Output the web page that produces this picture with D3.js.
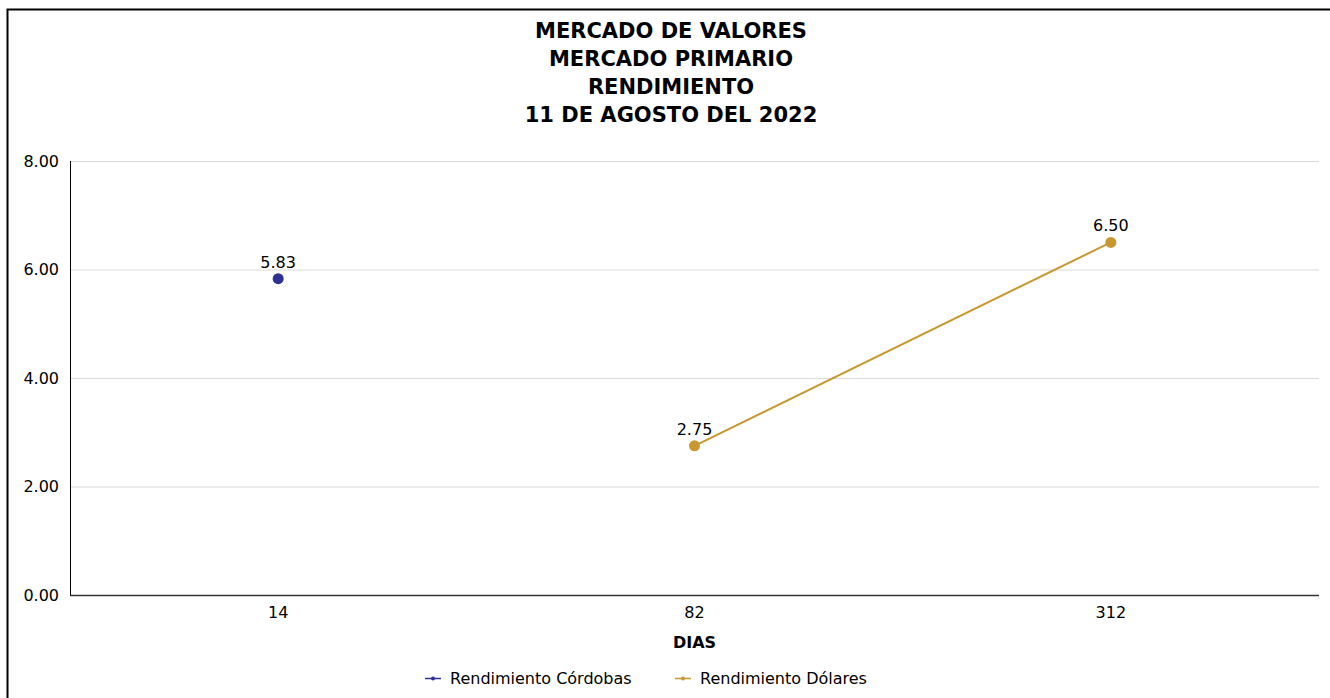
<!DOCTYPE html>
<html>
<head>
<meta charset="utf-8">
<script src="https://cdn.jsdelivr.net/npm/d3@7"></script>
<style>
  body { margin: 0; background: #fff; }
  text { font-family: "DejaVu Sans", Verdana, sans-serif; fill: #000; }
</style>
</head>
<body>
<div id="chart"></div>
<script>
const titleLines = ["MERCADO DE VALORES", "MERCADO PRIMARIO", "RENDIMIENTO", "11 DE AGOSTO DEL 2022"];
const dias = ["14", "82", "312"];
const cordobas = [5.83, null, null];
const dolares = [null, 2.75, 6.50];
const yTicks = [0, 2, 4, 6, 8];
const seriesNames = ["Rendimiento Córdobas", "Rendimiento Dólares"];
const colors = ["#2e3192", "#c9972f"];

const svgWidth = 1330, svgHeight = 698;
const margin = {top: 161, right: 11, bottom: 103, left: 70};
const width = svgWidth - margin.left - margin.right,
      height = svgHeight - margin.top - margin.bottom;

const svg = d3.select("#chart").append("svg")
    .attr("width", svgWidth)
    .attr("height", svgHeight);

// outer frame (runs off the right and bottom edges)
svg.append("rect")
    .attr("x", 7.5).attr("y", 9.5)
    .attr("width", 1400).attr("height", 800)
    .attr("fill", "none")
    .attr("stroke", "#000")
    .attr("stroke-width", 2);

svg.append("g")
    .selectAll("text")
    .data(titleLines)
    .enter()
    .append("text")
    .attr("x", svgWidth / 2 + 6)
    .attr("y", (d, i) => 38 + i * 28)
    .attr("text-anchor", "middle")
    .attr("font-size", "21px")
    .attr("font-weight", "bold")
    .text(d => d);

const g = svg.append("g")
    .attr("transform", "translate(" + margin.left + "," + margin.top + ")");

const x = d3.scaleBand().domain(dias).range([0, width]);
const y = d3.scaleLinear().domain([0, 8]).range([height, 0]);

// grid
g.append("g")
    .selectAll("line")
    .data(yTicks.filter(d => d > 0))
    .enter()
    .append("line")
    .attr("x1", 0).attr("x2", width)
    .attr("y1", d => y(d) + 0.5).attr("y2", d => y(d) + 0.5)
    .attr("stroke", "#d9d9d9");

const yAxis = d3.axisLeft(y).tickValues(yTicks).tickFormat(d3.format(".2f")).tickSize(0).tickPadding(11);
g.append("g")
    .attr("class", "y-axis")
    .call(yAxis)
    .call(a => a.select(".domain").attr("stroke", "#000").attr("d", "M0.5,0V" + height))
    .call(a => a.selectAll("text").attr("font-size", "16px").attr("font-family", "DejaVu Sans"));

const xAxis = d3.axisBottom(x).tickSize(0).tickPadding(12);
g.append("g")
    .attr("class", "x-axis")
    .attr("transform", "translate(0," + height + ")")
    .call(xAxis)
    .call(a => a.select(".domain").attr("stroke", "#333").attr("stroke-width", 1.5).attr("d", "M0,0.5H" + width))
    .call(a => a.selectAll("text").attr("font-size", "16px").attr("font-family", "DejaVu Sans"));

g.append("text")
    .attr("x", width / 2)
    .attr("y", height + 53)
    .attr("text-anchor", "middle")
    .attr("font-size", "16px")
    .attr("font-weight", "bold")
    .text("DIAS");

const cx = d => x(d) + x.bandwidth() / 2;
const series = [cordobas, dolares];

series.forEach((vals, s) => {
    const pts = dias.map((d, i) => ({d: d, v: vals[i]})).filter(p => p.v !== null);
    const line = d3.line().x(p => cx(p.d)).y(p => y(p.v));
    g.append("path")
        .datum(pts)
        .attr("d", line)
        .attr("fill", "none")
        .attr("stroke", colors[s])
        .attr("stroke-width", 2);
    g.selectAll(".pt" + s)
        .data(pts)
        .enter()
        .append("circle")
        .attr("class", "pt" + s)
        .attr("cx", p => cx(p.d))
        .attr("cy", p => y(p.v))
        .attr("r", 5.5)
        .attr("fill", colors[s]);
    g.selectAll(".lbl" + s)
        .data(pts)
        .enter()
        .append("text")
        .attr("x", p => cx(p.d))
        .attr("y", p => y(p.v) - 11)
        .attr("text-anchor", "middle")
        .attr("font-size", "16px")
        .text(p => d3.format(".2f")(p.v));
});

// legend
const legendX = [425, 675];
const legend = svg.append("g")
    .selectAll("g")
    .data(seriesNames)
    .enter()
    .append("g")
    .attr("transform", (d, i) => "translate(" + legendX[i] + ",678)");
legend.append("line")
    .attr("x1", 0).attr("x2", 16)
    .attr("y1", 0.5).attr("y2", 0.5)
    .attr("stroke", (d, i) => colors[i])
    .attr("stroke-width", 1.5);
legend.append("circle")
    .attr("cx", 8).attr("cy", 0.5).attr("r", 2)
    .attr("fill", (d, i) => colors[i]);
legend.append("text")
    .attr("x", 25)
    .attr("y", 6)
    .attr("font-size", "16px")
    .text(d => d);
</script>
</body>
</html>
